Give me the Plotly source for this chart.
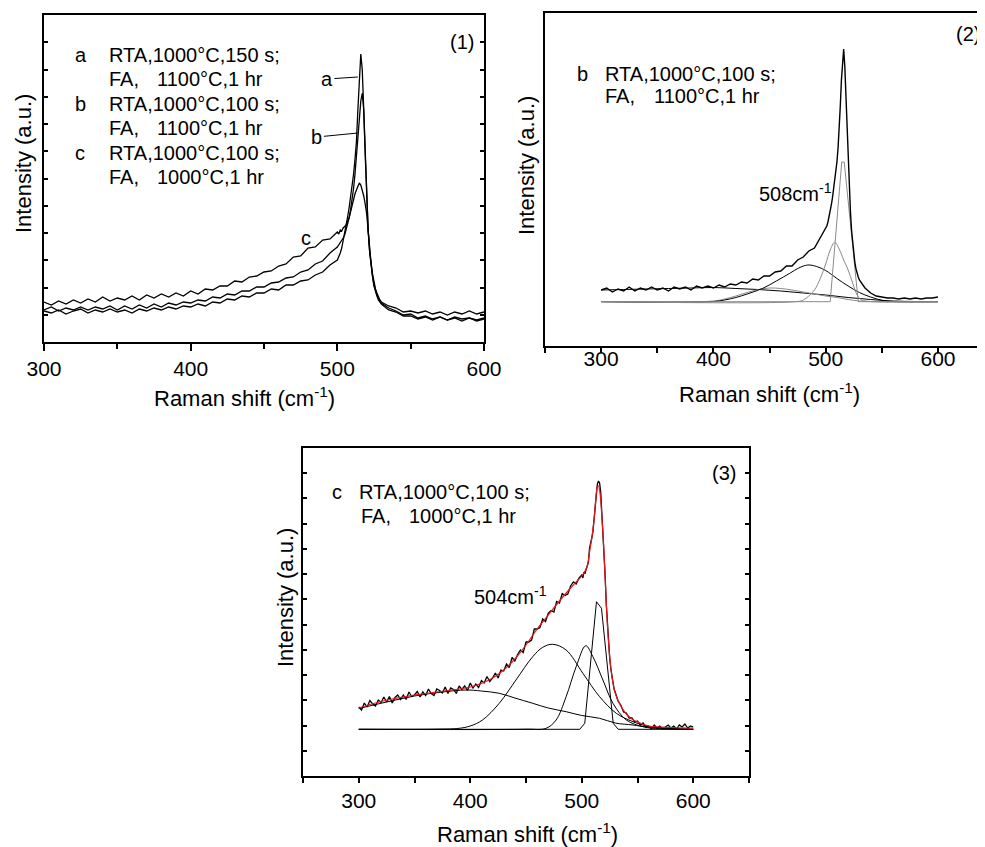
import plotly.graph_objects as go

# ---- data (intensity in arbitrary units) ----
# Raman-shift grid of the measured spectra in panels 1 and 2
SHIFT = list(range(300, 500, 5)) + list(range(500, 530)) + list(range(530, 601, 5))
# panel 3 spectrum was read on a finer grid
SHIFT3 = [300 + 2.5 * i for i in range(80)] + list(range(500, 530)) + [530 + 2.5 * i for i in range(29)]

# panel (1): three spectra
spec_a = [31, 29, 32, 28, 31, 33, 29, 32, 30, 33,
          30, 32, 29, 33, 31, 34, 32, 35, 33, 36,
          35, 38, 36, 40, 39, 43, 42, 46, 45, 49,
          49, 53, 52, 57, 57, 61, 62, 67, 70, 77,
          82, 85, 89, 94, 101, 108, 116, 125, 134, 144,
          155, 167, 182, 200, 232, 268, 288, 272, 228, 182,
          142, 112, 91, 76, 65, 56, 50, 46, 42, 40,
          38, 32, 30, 26, 26, 23, 25, 22, 25, 22, 24, 21, 24, 22, 24]
spec_b = [32, 35, 31, 34, 32, 35, 32, 35, 33, 36,
          32, 36, 33, 37, 34, 38, 35, 39, 37, 40,
          39, 42, 41, 45, 44, 48, 47, 51, 51, 55,
          55, 59, 60, 64, 65, 70, 72, 78, 81, 89,
          95, 97, 99, 101, 104, 107, 112, 118, 124, 132,
          141, 153, 167, 184, 204, 224, 241, 249, 232, 188,
          140, 112, 91, 77, 66, 57, 51, 47, 44, 41,
          39, 34, 31, 27, 28, 24, 26, 23, 25, 22, 25, 23, 24, 21, 23]
spec_c = [40, 37, 41, 38, 42, 39, 43, 40, 45, 41,
          44, 42, 46, 42, 47, 44, 48, 45, 49, 46,
          51, 48, 53, 52, 56, 56, 61, 60, 65, 66,
          70, 71, 76, 78, 85, 86, 94, 95, 102, 103,
          110, 108, 112, 111, 114, 116, 117, 121, 124, 130,
          137, 143, 148, 152, 156, 159, 157, 152, 146, 138,
          128, 112, 93, 79, 68, 59, 53, 49, 45, 42,
          40, 36, 34, 30, 31, 29, 31, 28, 30, 27, 30, 28, 31, 28, 30]

# panel (2): spectrum b with fitted components
spec_2 = [56, 58, 54, 57, 55, 59, 55, 58, 56, 59,
          56, 58, 55, 59, 57, 59, 56, 60, 58, 60,
          58, 61, 59, 62, 61, 64, 63, 67, 66, 70,
          70, 74, 75, 80, 80, 86, 89, 95, 98, 108,
          118, 120, 124, 129, 135, 141, 148, 156, 165, 174,
          184, 198, 216, 240, 266, 288, 297, 280, 250, 215,
          183, 158, 135, 116, 102, 91, 83, 77, 72, 69,
          66, 58, 53, 50, 49, 48, 48, 47, 48, 47, 48, 47, 48, 48, 49]
bg2_x = [300, 320, 340, 360, 380, 400, 420, 440, 460, 480, 500, 520, 540, 560, 580, 600]
bg2_y = [56, 56.5, 57, 57.5, 58, 58.5, 57.5, 56.5, 55, 53, 51, 48.5, 46.5, 45, 44.5, 44.3]
g450_x = [300, 400, 410, 420, 430, 440, 450, 460, 470, 480, 490, 500, 510, 520, 530, 540, 600]
g450_y = [44.3, 45, 47, 50, 53.5, 56.5, 58, 57.5, 56, 54, 52, 50, 48.5, 46.5, 45, 44.5, 44.3]
g484_x = [300, 400, 410, 420, 430, 444, 456, 468, 476, 484, 492, 500, 510, 520, 530, 540, 551, 560, 600]
g484_y = [44.3, 44.5, 46, 48.5, 52, 57.7, 65, 72.7, 78, 81, 79.5, 75.5, 67.5, 60, 53.5, 49, 45.5, 44.5, 44.3]
g508_x = [300, 475, 480, 485, 490, 495, 500, 504, 508, 512, 516, 520, 524, 528, 532, 540, 600]
g508_y = [44.3, 44.5, 46, 50, 56, 67, 82, 96, 103.7, 97, 86, 76, 63, 51, 46, 44.5, 44.3]
s516_x = [300, 504, 514.3, 516.5, 529, 600]
s516_y = [44.3, 44.3, 184, 184, 44.3, 44.3]

# panel (3): spectrum c, total fit and components
spec_3 = [69, 66, 73, 69, 75.5, 72, 70, 76, 73.5, 79,
          74, 79.5, 73, 78.5, 81, 76.5, 81, 76.5, 84, 79.5,
          81, 84.5, 79, 84, 80.5, 87, 82.5, 80.5, 87, 85.5,
          83, 89, 82.5, 88, 86.5, 82.5, 90, 86.5, 90, 85.5,
          93, 88, 92, 88.5, 95.5, 93, 99.5, 94.5, 98, 103,
          98, 106, 105, 112, 108.5, 118.5, 115, 121.5, 126, 123.5,
          134, 134, 136, 147, 147, 148.5, 157, 154.5, 163, 165.5,
          164, 174.5, 173, 182.5, 180.5, 182, 190, 194, 192, 198,
          201, 198, 204, 203, 207, 210, 214, 228, 232, 238,
          244, 256, 272, 287, 292, 295, 293, 284, 265, 248,
          225, 200, 172, 150, 133, 119, 108, 99, 93, 87,
          84, 75, 71, 64, 63, 58, 58, 54, 55, 51,
          53, 49, 50, 47, 51, 48, 50, 47, 49, 51,
          48, 50, 47, 51, 49, 52, 48, 50, 49]
fit3_x = [300, 310, 320, 330, 340, 350, 360, 370, 380, 390, 400, 410, 420, 430, 440, 450,
          460, 470, 480, 490, 495, 500, 503, 505, 507, 509, 511, 513, 514, 515, 516, 517,
          518, 519, 520, 521, 522, 523, 524, 525, 526, 527, 528, 530, 535, 540, 545, 550,
          560, 580, 600]
fit3_y = [68, 71.5, 74.5, 77, 79, 81, 82.5, 84, 85.5, 87, 89, 92.5, 98, 106, 117, 131,
          147, 161, 175, 188, 194, 200, 205, 210, 224, 238, 256, 282, 289, 290, 286, 276,
          260, 243, 222, 198, 173, 151, 134, 120, 109, 100, 93, 83, 70, 62, 57, 54,
          50, 48.5, 48]
bg3_x = [300, 325, 350, 375, 396, 410, 426, 440, 456, 470, 486, 500, 516, 530, 546, 558, 580, 600]
bg3_y = [67.5, 74, 80, 84, 86, 85, 82.7, 78, 72.7, 68, 64.3, 60.5, 57.7, 53, 51, 49, 47.5, 46.7]
g475_x = [300, 370, 390, 400, 411, 426, 441, 456, 465, 474, 486, 501, 516, 531, 546, 561, 580, 600]
g475_y = [46.7, 46.9, 47.7, 50, 56, 72.7, 96, 119.3, 128.7, 131.7, 126, 102.7, 79.3, 62.7, 54.3, 49.3, 47.5, 46.7]
g504_x = [300, 450, 468, 477, 486, 495, 503.6, 510, 519, 528, 540, 555, 570, 600]
g504_y = [46.7, 46.8, 47.7, 56, 79.3, 109.3, 130.3, 119.3, 96, 72.7, 56, 49.3, 47.3, 46.7]
s514_x = [300, 498.2, 502.7, 513.2, 517.7, 528.2, 532.7, 600]
s514_y = [46.7, 46.7, 52.7, 174.3, 167.7, 52.7, 46.7, 46.7]

W, H = 985, 847
OFF = 8  # the page body has an 8px margin
FONT = "Liberation Sans, Arial, sans-serif"
GRAY = "#8a8a8a"


def px(x):
    return (x - OFF) / W


def py(y):
    return 1 - (y - OFF) / H


fig = go.Figure()

# panel 1
for ys in (spec_a, spec_b, spec_c):
    fig.add_trace(go.Scatter(x=SHIFT, y=ys, mode="lines", line=dict(color="black", width=1.3),
                             xaxis="x", yaxis="y"))

# panel 2
for xs, ys, col in ((bg2_x, bg2_y, "black"), (g450_x, g450_y, GRAY), (g484_x, g484_y, "black"),
                    (g508_x, g508_y, GRAY)):
    fig.add_trace(go.Scatter(x=xs, y=ys, mode="lines", line=dict(color=col, width=1, shape="spline"),
                             xaxis="x2", yaxis="y2"))
fig.add_trace(go.Scatter(x=s516_x, y=s516_y, mode="lines", line=dict(color=GRAY, width=1),
                         xaxis="x2", yaxis="y2"))
# the spectrum sits on the overlay axis that carries panel 2's tick labels
fig.add_trace(go.Scatter(x=SHIFT, y=spec_2, mode="lines", line=dict(color="black", width=1.4),
                         xaxis="x4", yaxis="y2"))

# panel 3
for xs, ys in ((bg3_x, bg3_y), (g475_x, g475_y), (g504_x, g504_y)):
    fig.add_trace(go.Scatter(x=xs, y=ys, mode="lines", line=dict(color="black", width=1, shape="spline"),
                             xaxis="x3", yaxis="y3"))
fig.add_trace(go.Scatter(x=s514_x, y=s514_y, mode="lines", line=dict(color="black", width=1),
                         xaxis="x3", yaxis="y3"))
fig.add_trace(go.Scatter(x=SHIFT3, y=spec_3, mode="lines", line=dict(color="black", width=1.3),
                         xaxis="x3", yaxis="y3"))
fig.add_trace(go.Scatter(x=fit3_x, y=fit3_y, mode="lines", line=dict(color="#e8141b", width=1.2, shape="spline"),
                         xaxis="x3", yaxis="y3"))

frame = dict(showline=True, linecolor="black", linewidth=1.5, showgrid=False, zeroline=False,
             automargin=False, tickcolor="black", tickwidth=1.5,
             tickfont=dict(size=21, color="black", family=FONT))
minor50 = dict(tickvals=[250, 350, 450, 550, 650], ticks="outside", ticklen=5, tickwidth=1.5,
               tickcolor="black")
LABELS = [300, 400, 500, 600]
range2 = [250, 649]

fig.update_layout(
    width=W, height=H, margin=dict(l=0, r=0, t=0, b=0, pad=0, autoexpand=False),
    paper_bgcolor="white", plot_bgcolor="white", showlegend=False,
    font=dict(family=FONT, color="black"),
    xaxis=dict(frame, domain=[px(44), px(484)], range=[300, 600], anchor="y", mirror=True,
               tickvals=LABELS, ticks="outside", ticklen=7,
               minor=dict(minor50, tickvals=[350, 450, 550], ticklen=5)),
    yaxis=dict(frame, domain=[py(342), py(15)], range=[0, 327], anchor="x", mirror="ticks",
               tick0=0, dtick=27.25, ticks="inside", ticklen=4, showticklabels=False),
    xaxis2=dict(frame, domain=[px(545), 1.0], range=range2, anchor="y2", mirror=True,
                tickvals=LABELS, ticks="outside", ticklen=5, minor=minor50, showticklabels=False),
    # tick labels of panel 2 sit closer to the axis than in the other panels
    xaxis4=dict(overlaying="x2", anchor="free", position=py(344), range=range2, showline=False,
                showgrid=False, zeroline=False, automargin=False, tickvals=LABELS, ticks="",
                tickfont=dict(size=21, color="black", family=FONT)),
    yaxis2=dict(frame, domain=[py(346), py(13)], range=[0, 333], anchor="x2",
                ticks="", showticklabels=False),
    xaxis3=dict(frame, domain=[px(303), px(749)], range=[250, 650], anchor="y3", mirror=True,
                tickvals=LABELS, ticks="outside", ticklen=5, minor=minor50),
    yaxis3=dict(frame, domain=[py(776), py(448)], range=[0, 328], anchor="x3", mirror="ticks",
                tick0=0, dtick=328 / 13, ticks="inside", ticklen=4, showticklabels=False),
)

ann = []


def text(t, x, y, size=20, xanchor="left", angle=0):
    ann.append(dict(text=t, x=px(x), y=py(y), xref="paper", yref="paper", showarrow=False,
                    xanchor=xanchor, yanchor="middle", textangle=angle,
                    font=dict(size=size, color="black", family=FONT)))


RAMAN = "Raman shift (cm<sup>-1</sup>)"
INT = "Intensity (a.u.)"

# axis titles
text(RAMAN, 244, 397, 22, "center")
text(RAMAN, 769, 393, 22, "center")
text(RAMAN, 527, 833, 22, "center")
text(INT, 23, 164, 22, "center", -90)
text(INT, 527, 166, 22, "center", -90)
text(INT, 285, 598, 22, "center", -90)

# panel labels
text("(1)", 462, 42, 20, "center")
text("(2)", 954, 34, 20)
text("(3)", 724, 473, 20, "center")

# panel 1 legend block
rows1 = [("a", "RTA,1000°C,150 s;", None), (None, "FA,", "1100°C,1 hr"),
         ("b", "RTA,1000°C,100 s;", None), (None, "FA,", "1100°C,1 hr"),
         ("c", "RTA,1000°C,100 s;", None), (None, "FA,", "1000°C,1 hr")]
for (letter, t1, t2), yy in zip(rows1, [55, 79, 104, 128, 153, 177]):
    if letter:
        text(letter, 73, yy)
    text(t1, 107, yy)
    if t2:
        text(t2, 155, yy)

# panel 2 legend
text("b", 575, 74)
text("RTA,1000°C,100 s;", 603, 74)
text("FA,", 603, 96)
text("1100°C,1 hr", 652, 96)
text("508cm<sup>-1</sup>", 757, 192)

# panel 3 legend
text("c", 330, 492)
text("RTA,1000°C,100 s;", 357, 492)
text("FA,", 359, 516)
text("1000°C,1 hr", 407, 516)
text("504cm<sup>-1</sup>", 472, 595)

# curve labels in panel 1
ann.append(dict(text="a", x=514, y=265, xref="x", yref="y", ax=-31, ay=2, showarrow=True,
                arrowhead=0, arrowwidth=1, arrowcolor="black",
                font=dict(size=20, color="black", family=FONT)))
ann.append(dict(text="b", x=514, y=209, xref="x", yref="y", ax=-41, ay=4, showarrow=True,
                arrowhead=0, arrowwidth=1, arrowcolor="black",
                font=dict(size=20, color="black", family=FONT)))
ann.append(dict(text="c", x=478.6, y=104, xref="x", yref="y", showarrow=False,
                font=dict(size=20, color="black", family=FONT)))

fig.update_layout(annotations=ann)
fig.write_html("out.html")
